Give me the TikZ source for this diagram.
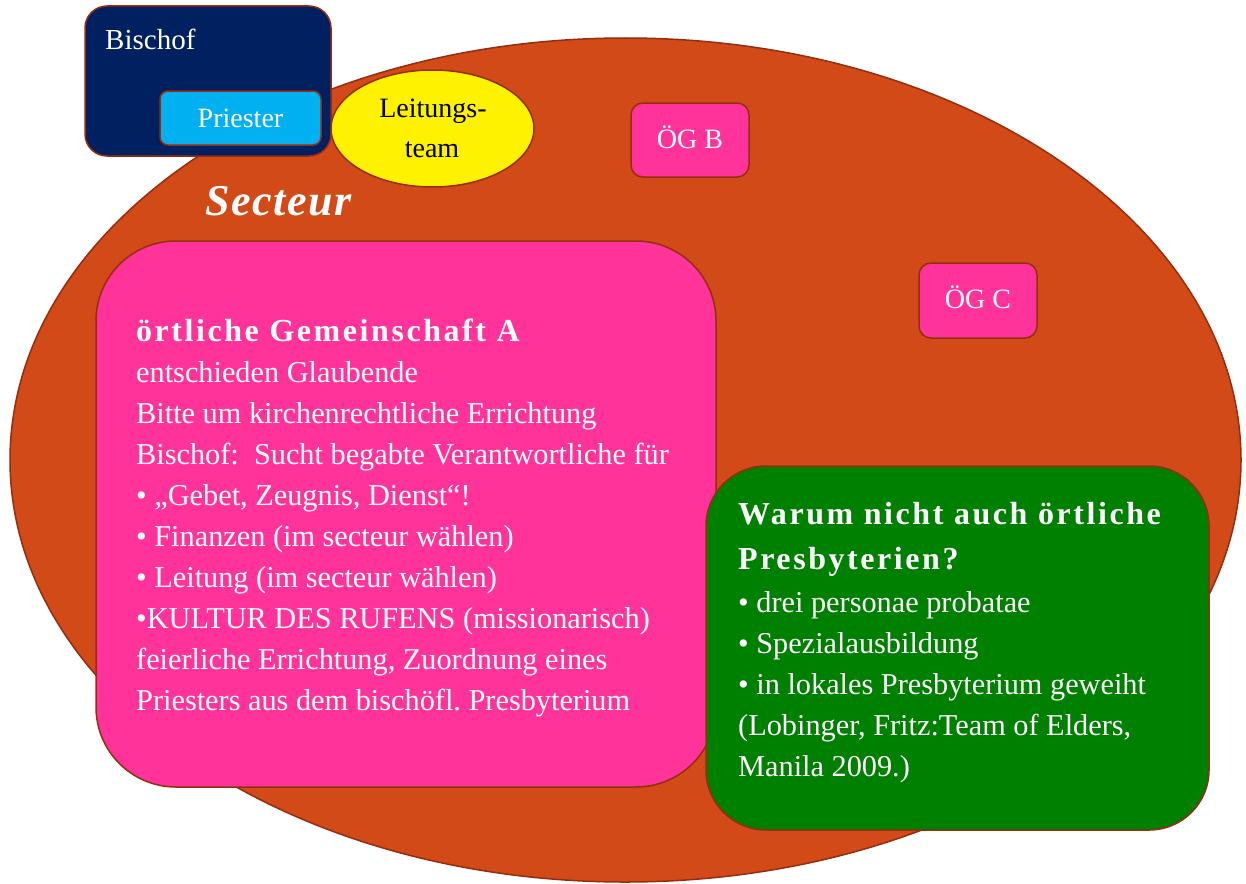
\documentclass[tikz,border=0pt]{standalone}
\usepackage{fontspec}
\setmainfont{Liberation Serif}
\frenchspacing
\usetikzlibrary{shapes.geometric}
\definecolor{sectorange}{RGB}{209,74,23}
\definecolor{edgebrown}{RGB}{150,45,15}
\definecolor{navybox}{RGB}{0,32,96}
\definecolor{cyanbox}{RGB}{0,176,240}
\definecolor{pinkbox}{RGB}{255,51,153}
\definecolor{greenbox}{RGB}{0,128,0}
\tikzset{
  box/.style={draw=edgebrown, line width=1.5pt, rectangle, inner sep=0pt},
  wtxt/.style={text=white, inner sep=0pt, anchor=base west},
  ctxt/.style={inner sep=0pt, anchor=base},
  bodyfont/.style={font=\fontsize{30.3}{36}\selectfont\frenchspacing},
  headfont/.style={font=\fontsize{32}{38}\selectfont\bfseries\addfontfeature{LetterSpace=8}},
}
\begin{document}
\begin{tikzpicture}[x=1pt,y=-1pt]
\useasboundingbox (0,0) rectangle (1246,883);
% sector ellipse
\node[ellipse, draw=edgebrown, line width=1.5pt, fill=sectorange, minimum width=1231pt, minimum height=844pt, inner sep=0pt] (sect) at (625.5,460) {};
% Bischof box
\node[box, fill=navybox, rounded corners=22pt, minimum width=246pt, minimum height=150pt] (bischof) at (208,81) {};
\node[wtxt, font=\fontsize{29}{34}\selectfont] (bischoftxt) at (105,50) {Bischof};
\node[box, fill=cyanbox, rounded corners=8pt, minimum width=161pt, minimum height=54pt] (priester) at (240.5,118) {};
\node[ctxt, text=white, font=\fontsize{28}{34}\selectfont] (priestertxt) at (240.5,127) {Priester};
% Leitungsteam
\node[ellipse, draw=edgebrown, line width=1.5pt, fill=yellow, minimum width=203pt, minimum height=117pt, inner sep=0pt] (leitung) at (432.5,128.5) {};
\node[ctxt, font=\fontsize{28}{34}\selectfont] (leit1) at (433,117) {Leitungs-};
\node[ctxt, font=\fontsize{28}{34}\selectfont] (leit2) at (432,157) {team};
% OeG B, C
\node[box, fill=pinkbox, rounded corners=12pt, minimum width=118pt, minimum height=74pt] (ogb) at (690,140) {};
\node[ctxt, text=white, font=\fontsize{28}{34}\selectfont] (ogbtxt) at (690,148) {ÖG B};
\node[box, fill=pinkbox, rounded corners=12pt, minimum width=118pt, minimum height=75pt] (ogc) at (978,300.5) {};
\node[ctxt, text=white, font=\fontsize{28}{34}\selectfont] (ogctxt) at (978,308) {ÖG C};
% Secteur
\node[wtxt, font=\fontsize{44}{50}\selectfont\bfseries\itshape\addfontfeature{LetterSpace=3.5}] (secteur) at (205,215) {Secteur};
% Community A
\node[box, fill=pinkbox, rounded corners=80pt, minimum width=620pt, minimum height=546pt] (oga) at (406,514) {};
\node[wtxt, headfont] (a0) at (136,341) {örtliche Gemeinschaft A};
\node[wtxt, bodyfont] (a1) at (136,382) {entschieden Glaubende};
\node[wtxt, bodyfont] (a2) at (136,423) {Bitte um kirchenrechtliche Errichtung};
\node[wtxt, bodyfont] (a3) at (136,464) {Bischof:\ \ Sucht begabte Verantwortliche für};
\node[wtxt, bodyfont] (a4) at (136,505) {• „Gebet, Zeugnis, Dienst“!};
\node[wtxt, bodyfont] (a5) at (136,546) {• Finanzen (im secteur wählen)};
\node[wtxt, bodyfont] (a6) at (136,587) {• Leitung (im secteur wählen)};
\node[wtxt, bodyfont] (a7) at (136,628) {•KULTUR DES RUFENS (missionarisch)};
\node[wtxt, bodyfont] (a8) at (136,669) {feierliche Errichtung, Zuordnung eines};
\node[wtxt, bodyfont] (a9) at (136,710) {Priesters aus dem bischöfl. Presbyterium};
% Presbyterien box
\node[box, fill=greenbox, rounded corners=60pt, minimum width=503pt, minimum height=364pt] (pres) at (957.5,648) {};
\node[wtxt, headfont] (p0) at (738,524) {Warum nicht auch örtliche};
\node[wtxt, headfont] (p1) at (738,569) {Presbyterien?};
\node[wtxt, bodyfont] (p2) at (738,612) {• drei personae probatae};
\node[wtxt, bodyfont] (p3) at (738,653) {• Spezialausbildung};
\node[wtxt, bodyfont] (p4) at (738,694) {• in lokales Presbyterium geweiht};
\node[wtxt, bodyfont] (p5) at (738,735) {(Lobinger, Fritz:Team of Elders,};
\node[wtxt, bodyfont] (p6) at (738,776) {Manila 2009.)};
\end{tikzpicture}
\end{document}
